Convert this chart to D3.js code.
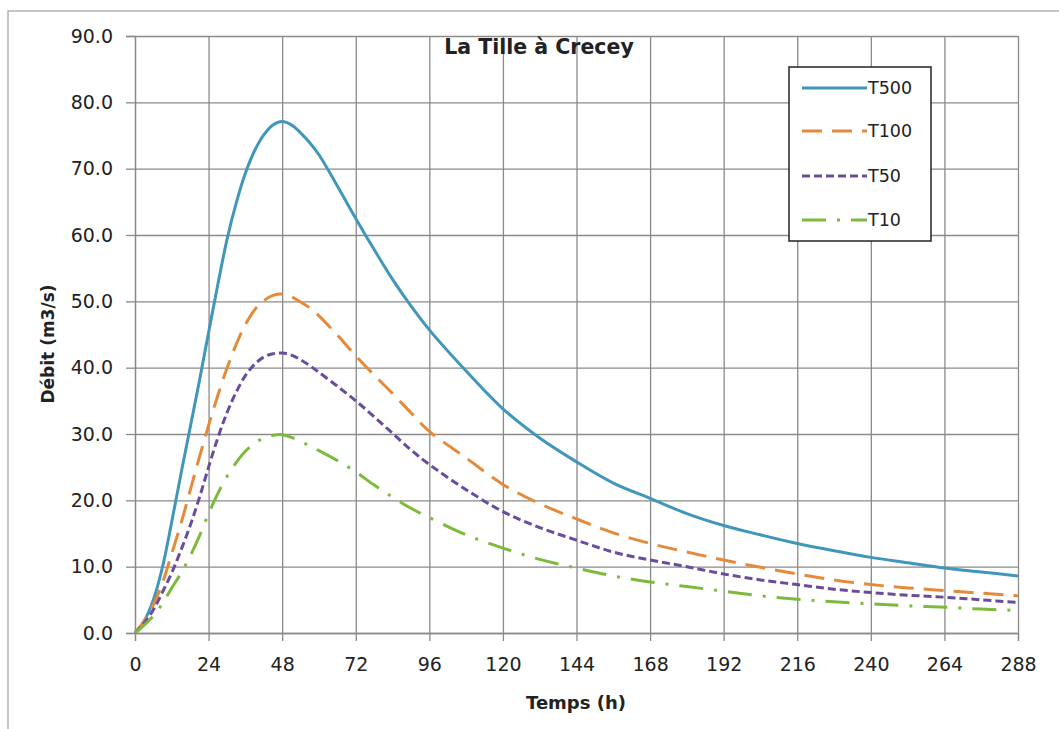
<!DOCTYPE html>
<html>
<head>
<meta charset="utf-8">
<script src="https://cdn.jsdelivr.net/npm/d3@7"></script>
<style>
  body { margin: 0; background: #fff; }
  svg { font-family: 'DejaVu Sans', Verdana, sans-serif; }
  .grid line { stroke: #8a8a8a; stroke-width: 1.3px; }
</style>
</head>
<body>
<div id="chart"></div>
<script>
var hours = [0, 3, 6, 9, 12, 15, 18, 21, 24, 27, 30, 33, 36, 39, 42, 45, 48, 51, 54, 57, 60,
    66, 72, 78, 84, 90, 96, 108, 120, 132, 144, 156, 168, 180, 192, 204, 216, 228, 240, 252, 264, 276, 288];

var t500 = [0, 1.8, 5, 10, 16.8, 24, 31, 38, 45.3, 52.5, 59.3, 64.8, 69.3, 72.7, 75.1, 76.6, 77.1, 76.6, 75.4, 73.9, 72.1,
    67.4, 62.5, 57.8, 53.3, 49.3, 45.7, 39.5, 33.8, 29.4, 25.8, 22.6, 20.3, 18, 16.2, 14.8, 13.5, 12.4, 11.4, 10.6, 9.8, 9.2, 8.6];
var t100 = [0, 1.8, 4.3, 7.6, 12, 16.5, 21.5, 26.5, 31.3, 35.8, 39.9, 43.5, 46.5, 48.7, 50.1, 50.9, 51.1, 50.7, 49.9, 49, 47.8,
    44.9, 41.8, 38.9, 36.1, 33.2, 30.4, 26.4, 22.4, 19.5, 17.2, 15.1, 13.5, 12.2, 11, 9.9, 8.9, 8, 7.3, 6.8, 6.4, 6, 5.6];
var t50 = [0, 1.5, 3.5, 6.2, 9.1, 12.5, 16.2, 20.4, 25, 29.4, 33.2, 36.3, 38.8, 40.5, 41.6, 42.1, 42.2, 41.9, 41.2, 40.3, 39.3,
    37.2, 35, 32.6, 30.1, 27.6, 25.4, 21.6, 18.3, 15.9, 14, 12.2, 11, 10, 8.9, 8, 7.3, 6.6, 6.1, 5.7, 5.4, 5, 4.6];
var t10 = [0, 1.2, 2.6, 4.5, 6.8, 9, 11.6, 14.6, 18, 21, 23.6, 25.7, 27.4, 28.6, 29.4, 29.8, 29.9, 29.5, 28.9, 28.2, 27.5,
    26, 24.3, 22.3, 20.5, 18.8, 17.4, 14.8, 12.8, 11.1, 9.8, 8.6, 7.7, 7, 6.3, 5.6, 5.1, 4.7, 4.4, 4.1, 3.9, 3.6, 3.4];

var seriesNames = ['T500', 'T100', 'T50', 'T10'];
var seriesValues = [t500, t100, t50, t10];
var seriesColors = ['#4196bb', '#e58a3a', '#6a4c9c', '#7dba3c'];
var seriesDash = [null, '20,10', '8,4', '24,11,3,11'];

var xTicks = d3.range(0, 289, 24);
var yTicks = d3.range(0, 91, 10);

var width = 1059, height = 729;
var margin = { left: 135, right: 41, top: 36, bottom: 96 };

var svg = d3.select('#chart').append('svg')
    .attr('width', width)
    .attr('height', height);

// outer frame of the chart object
svg.append('rect')
    .attr('x', 8).attr('y', 11)
    .attr('width', 1100).attr('height', 800)
    .attr('fill', 'none')
    .attr('stroke', '#a0a0a0')
    .attr('stroke-width', 1.2);

var x = d3.scaleLinear().domain([0, 288]).range([margin.left, width - margin.right]);
var y = d3.scaleLinear().domain([0, 90]).range([height - margin.bottom, margin.top]);

// grid + ticks
svg.append('g')
    .attr('class', 'grid')
    .attr('transform', 'translate(0,' + y(0) + ')')
    .call(d3.axisBottom(x).tickValues(xTicks).tickSize(-(y(0) - y(90))).tickFormat(''))
    .call(function (g) { g.select('.domain').remove(); });
svg.append('g')
    .attr('class', 'grid')
    .attr('transform', 'translate(' + x(0) + ',0)')
    .call(d3.axisLeft(y).tickValues(yTicks).tickSize(-(x(288) - x(0))).tickFormat(''))
    .call(function (g) { g.select('.domain').remove(); });

function styleAxis(g) {
    g.attr('font-family', null).attr('font-size', null);
    g.select('.domain').attr('stroke', '#8a8a8a').attr('stroke-width', 1.3);
    g.selectAll('.tick line').attr('stroke', '#8a8a8a').attr('stroke-width', 1.3);
    g.selectAll('.tick text').style('font-size', '19px').attr('fill', '#222');
}

svg.append('g')
    .attr('transform', 'translate(0,' + y(0) + ')')
    .call(d3.axisBottom(x).tickValues(xTicks).tickSize(8).tickPadding(17).tickFormat(d3.format('d')))
    .call(styleAxis);

svg.append('g')
    .attr('transform', 'translate(' + x(0) + ',0)')
    .call(d3.axisLeft(y).tickValues(yTicks).tickSize(9).tickPadding(13).tickFormat(d3.format('.1f')))
    .call(styleAxis);

// lines
var line = d3.line()
    .x(function (d, i) { return x(hours[i]); })
    .y(function (d) { return y(d); })
    .curve(d3.curveCatmullRom.alpha(0.5));

seriesValues.forEach(function (vals, i) {
    svg.append('path')
        .datum(vals)
        .attr('fill', 'none')
        .attr('stroke', seriesColors[i])
        .attr('stroke-width', 3)
        .attr('stroke-dasharray', seriesDash[i])
        .attr('d', line);
});

// titles
svg.append('text')
    .attr('x', 539).attr('y', 54)
    .attr('text-anchor', 'middle')
    .attr('font-size', 20.5).attr('font-weight', 'bold')
    .attr('fill', '#222')
    .text('La Tille à Crecey');

svg.append('text')
    .attr('x', 576).attr('y', 709)
    .attr('text-anchor', 'middle')
    .attr('font-size', 18).attr('font-weight', 'bold')
    .attr('fill', '#222')
    .text('Temps (h)');

svg.append('text')
    .attr('transform', 'translate(54,344) rotate(-90)')
    .attr('text-anchor', 'middle')
    .attr('font-size', 17).attr('font-weight', 'bold')
    .attr('fill', '#222')
    .text('Débit (m3/s)');

// legend
var legend = svg.append('g');
legend.append('rect')
    .attr('x', 789).attr('y', 67)
    .attr('width', 142).attr('height', 174)
    .attr('fill', '#fff')
    .attr('stroke', '#222')
    .attr('stroke-width', 1.5);

var legendY = [88, 131, 176, 220];
seriesNames.forEach(function (name, i) {
    legend.append('line')
        .attr('x1', 802).attr('x2', 867)
        .attr('y1', legendY[i]).attr('y2', legendY[i])
        .attr('stroke', seriesColors[i])
        .attr('stroke-width', 3)
        .attr('stroke-dasharray', seriesDash[i]);
    legend.append('text')
        .attr('x', 868).attr('y', legendY[i] + 6)
        .attr('font-size', 17.5)
        .attr('fill', '#222')
        .text(name);
});
</script>
</body>
</html>
